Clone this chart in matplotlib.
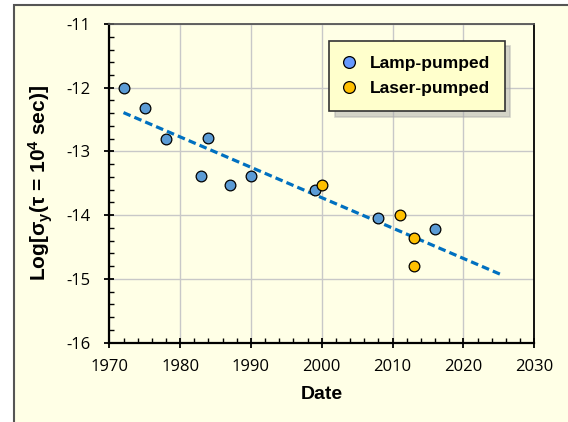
import matplotlib
matplotlib.use("Agg")
import matplotlib.pyplot as plt
from matplotlib.lines import Line2D
from matplotlib.patches import Rectangle
from matplotlib.ticker import MultipleLocator

# Lamp-pumped standards
lamp_year = [1972, 1975, 1978, 1983, 1984, 1987, 1990, 1999, 2008, 2016]
lamp_log = [-12.0, -12.31, -12.8, -13.38, -12.79, -13.52, -13.39, -13.6, -14.04, -14.22]

# Laser-pumped standards
laser_year = [2000, 2011, 2013, 2013]
laser_log = [-13.52, -14.0, -14.36, -14.8]

# trend line end points
trend_year = [1972, 2025.5]
trend_log = [-12.39, -14.94]

plt.rcParams['font.family'] = 'Open Sans'
plt.rcParams['axes.unicode_minus'] = False
plt.rcParams['mathtext.fontset'] = 'custom'
plt.rcParams['mathtext.bf'] = 'Liberation Sans:bold'
plt.rcParams['mathtext.rm'] = 'Liberation Sans:bold'
plt.rcParams['mathtext.default'] = 'bf'

bg = '#FFFFE6'
fig = plt.figure(figsize=(5.68, 4.22), dpi=100, facecolor='white')
fig.patches.append(Rectangle((14 / 568, -0.05), 1.1, 1 - 5 / 422 + 0.05,
                             transform=fig.transFigure, facecolor=bg,
                             edgecolor='#555555', linewidth=1.5, zorder=-10))

ax = fig.add_axes([0.1925, 0.1879, 0.748, 0.7552])
ax.set_facecolor(bg)

ax.plot(trend_year, trend_log, color='#0070C0', lw=2.3, dashes=(2.4, 1.3), zorder=3)
ax.plot(lamp_year, lamp_log, 'o', ms=7.7, mfc='#5B9BD5', mec='black', mew=0.9, zorder=4)
ax.plot(laser_year, laser_log, 'o', ms=7.7, mfc='#FFC000', mec='black', mew=0.9, zorder=5)

ax.set_xlim(1970, 2030)
ax.set_ylim(-16, -11)
ax.xaxis.set_major_locator(MultipleLocator(10))
ax.xaxis.set_minor_locator(MultipleLocator(2))
ax.yaxis.set_major_locator(MultipleLocator(1))
ax.yaxis.set_minor_locator(MultipleLocator(0.2))
ax.grid(True, which='major', color='#C8C8C8', lw=1.0, zorder=0)
ax.set_axisbelow(True)

ax.tick_params(which='major', direction='inout', length=7.5, width=1.3,
               labelsize=12, top=False, right=False)
ax.tick_params(axis='x', which='major', pad=8)
ax.tick_params(axis='y', which='major', pad=10)
ax.tick_params(which='minor', direction='in', length=3.5, width=1.0,
               top=False, right=False)

for side in ['left', 'bottom']:
    ax.spines[side].set_linewidth(1.6)
    ax.spines[side].set_color('black')
ax.spines['top'].set_color('#555555')
ax.spines['top'].set_linewidth(1.3)
ax.spines['right'].set_color('black')
ax.spines['right'].set_linewidth(1.3)

ax.set_xlabel('Date', fontfamily='Liberation Sans', fontweight='bold',
              fontsize=14, labelpad=8)
ax.set_ylabel(r'Log[σ$_{y}$(τ = 10$^{4}$ sec)]', fontfamily='Liberation Sans',
              fontweight='bold', fontsize=15, labelpad=8)

handles = [
    Line2D([], [], ls='none', marker='o', ms=8.5, mfc='#6699FF', mec='black', mew=0.9,
           label='Lamp-pumped'),
    Line2D([], [], ls='none', marker='o', ms=8.5, mfc='#FFC000', mec='black', mew=0.9,
           label='Laser-pumped'),
]
leg = ax.legend(handles=handles, loc='upper left', bbox_to_anchor=(0.517, 0.947),
                frameon=True, fancybox=False, facecolor='#FFFFCC', edgecolor='#333333',
                framealpha=1, shadow={'ox': 4, 'oy': -4, 'color': '#AAAAAA', 'alpha': 0.5},
                prop={'family': 'Liberation Sans', 'weight': 'bold', 'size': 12.5},
                handlelength=0.6, handletextpad=0.9, borderpad=0.85, labelspacing=0.6,
                borderaxespad=0)
leg.get_frame().set_linewidth(1.2)

fig.savefig('out.png', dpi=100, facecolor='white')
